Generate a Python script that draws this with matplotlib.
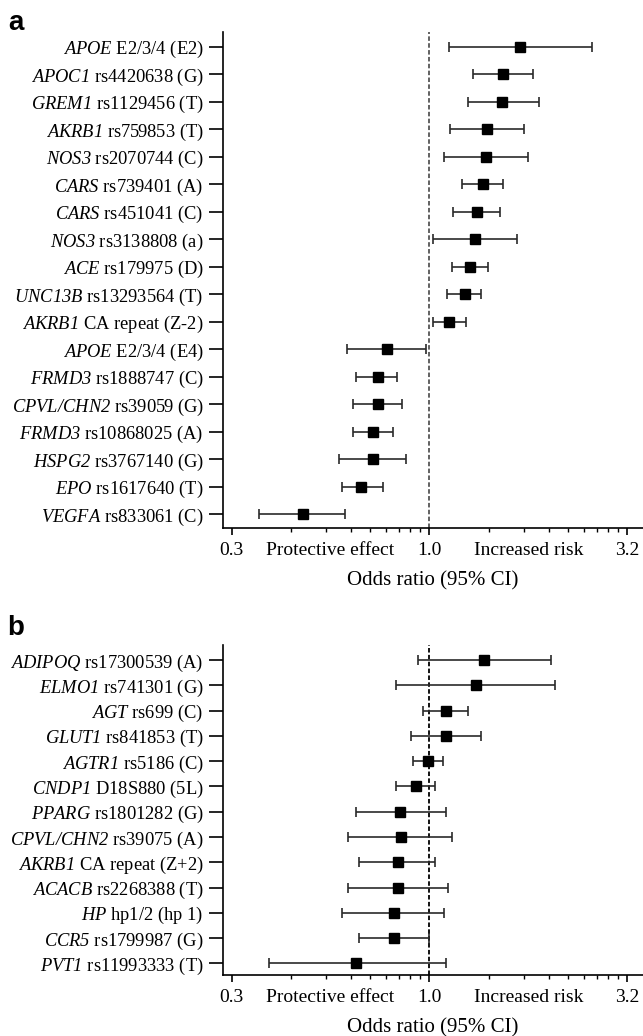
import numpy as np
import matplotlib
matplotlib.use("Agg")
import matplotlib.pyplot as plt
from matplotlib.ticker import FixedLocator, NullFormatter

plt.rcParams['font.family'] = ['Liberation Serif', 'DejaVu Serif']
plt.rcParams['mathtext.fontset'] = 'custom'
plt.rcParams['mathtext.rm'] = 'Liberation Serif:italic'
plt.rcParams['mathtext.it'] = 'Liberation Serif:italic'

# ---------------- Data ----------------
genes_a = ["APOE", "APOC1", "GREM1", "AKRB1", "NOS3", "CARS", "CARS", "NOS3", "ACE",
           "UNC13B", "AKRB1", "APOE", "FRMD3", "CPVL/CHN2", "FRMD3", "HSPG2", "EPO", "VEGFA"]
variants_a = ["E2/3/4 (E2)", "rs4420638 (G)", "rs1129456 (T)", "rs759853 (T)", "rs2070744 (C)",
              "rs739401 (A)", "rs451041 (C)", "rs3138808 (a)", "rs179975 (D)", "rs13293564 (T)",
              "CA repeat (Z-2)", "E2/3/4 (E4)", "rs1888747 (C)", "rs39059 (G)", "rs10868025 (A)",
              "rs3767140 (G)", "rs1617640 (T)", "rs833061 (C)"]
or_a = [1.696, 1.537, 1.527, 1.397, 1.387, 1.368, 1.319, 1.306, 1.266,
        1.228, 1.117, 0.781, 0.740, 0.740, 0.720, 0.720, 0.671, 0.480]
lo_a = [1.119, 1.289, 1.249, 1.127, 1.089, 1.209, 1.147, 1.020, 1.138,
        1.108, 1.020, 0.620, 0.651, 0.641, 0.641, 0.592, 0.600, 0.371]
hi_a = [2.570, 1.828, 1.886, 1.735, 1.776, 1.537, 1.507, 1.663, 1.408,
        1.347, 1.239, 0.979, 0.829, 0.852, 0.811, 0.870, 0.761, 0.612]

genes_b = ["ADIPOQ", "ELMO1", "AGT", "GLUT1", "AGTR1", "CNDP1", "PPARG", "CPVL/CHN2",
           "AKRB1", "ACACB", "HP", "CCR5", "PVT1"]
variants_b = ["rs17300539 (A)", "rs741301 (G)", "rs699 (C)", "rs841853 (T)", "rs5186 (C)",
              "D18S880 (5L)", "rs1801282 (G)", "rs39075 (A)", "CA repeat (Z+2)",
              "rs2268388 (T)", "hp1/2 (hp 1)", "rs1799987 (G)", "rs11993333 (T)"]
or_b = [1.373, 1.311, 1.102, 1.102, 0.992, 0.924, 0.844, 0.845, 0.834, 0.834, 0.813, 0.813, 0.652]
lo_b = [0.933, 0.823, 0.964, 0.896, 0.911, 0.823, 0.652, 0.623, 0.662, 0.623, 0.601, 0.663, 0.394]
hi_b = [2.026, 2.078, 1.254, 1.349, 1.082, 1.031, 1.102, 1.143, 1.033, 1.112, 1.085, 1.000, 1.104]

xtick_vals = [10 ** -0.5, 10 ** -0.25, 1.0, 10 ** 0.25, 10 ** 0.5]
xtick_labels = ["0.3", "Protective effect", "1.0", "Increased risk", "3.2"]
minor_vals = [np.sqrt(j / 10) for j in range(2, 10)] + [np.sqrt(j) for j in range(2, 10)]
xlabel = "Odds ratio (95% CI)"

W, H = 643, 1036
fig = plt.figure(figsize=(W / 100, H / 100), dpi=100)

def make_panel(rect, genes, variants, ors, los, his, ylim, dash_color, letter, letter_xy):
    ax = fig.add_axes(rect)
    n = len(genes)
    y = np.arange(n)
    ors = np.array(ors); los = np.array(los); his = np.array(his)
    ax.axvline(1.0, color=dash_color, lw=1.3, linestyle=(0, (2.5, 1.3)), zorder=1)
    ax.errorbar(ors, y, xerr=[ors - los, his - ors], fmt='s', color='black',
                ecolor='#2a2a2a', elinewidth=1.2, capsize=3.3, capthick=1.2,
                markersize=7, zorder=3)
    ax.set_xscale('log')
    ax.set_xlim(0.3009, 3.462)
    ax.set_ylim(*ylim)
    ax.set_yticks(y)
    labels = [r"$" + g + "$ " + v for g, v in zip(genes, variants)]
    ax.set_yticklabels(labels, fontsize=13.3)
    ax.tick_params(axis='y', length=10, width=1.2, pad=4)
    ax.xaxis.set_major_locator(FixedLocator(xtick_vals))
    ax.set_xticklabels(xtick_labels, fontsize=14)
    ax.xaxis.set_minor_locator(FixedLocator(minor_vals))
    ax.xaxis.set_minor_formatter(NullFormatter())
    ax.tick_params(axis='x', which='major', length=5, width=1.2, pad=5)
    ax.tick_params(axis='x', which='minor', length=3, width=1.0)
    ticks = ax.xaxis.get_major_ticks()
    for i in (1, 3):
        ticks[i].tick1line.set_visible(False)
    ax.set_xlabel(xlabel, fontsize=15, labelpad=9)
    for s in ('top', 'right'):
        ax.spines[s].set_visible(False)
    for s in ('left', 'bottom'):
        ax.spines[s].set_linewidth(1.2)
    fig.text(letter_xy[0], letter_xy[1], letter, fontsize=20, fontweight='bold',
             family='Liberation Sans', ha='left', va='baseline')
    return ax

left = 223 / W
make_panel([left, 1 - 528.3 / H, 1 - left, (528.3 - 31.7) / H], genes_a, variants_a,
           or_a, lo_a, hi_a, (17.51, -0.545), '#555555', 'a', (8 / W, 1 - 30 / H))
make_panel([left, 1 - 975.3 / H, 1 - left, (975.3 - 645) / H], genes_b, variants_b,
           or_b, lo_b, hi_b, (12.47, -0.59), 'black', 'b', (7 / W, 1 - 635 / H))

fig.savefig("out.png", dpi=100)
